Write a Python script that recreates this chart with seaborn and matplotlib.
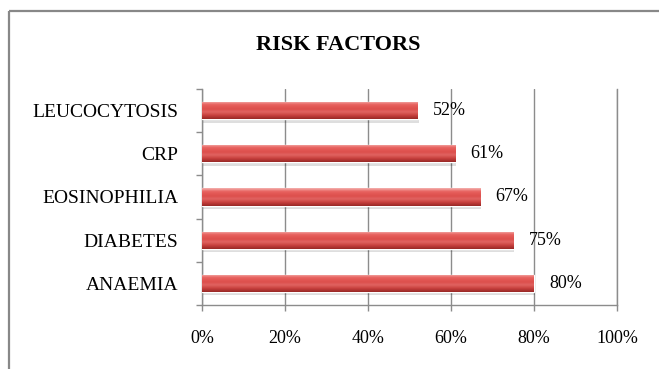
import numpy as np
import pandas as pd
import matplotlib
matplotlib.use("Agg")
import matplotlib.pyplot as plt
from matplotlib.lines import Line2D
from matplotlib.colors import LinearSegmentedColormap
import seaborn as sns

# ---- data ----
categories = ["LEUCOCYTOSIS", "CRP", "EOSINOPHILIA", "DIABETES", "ANAEMIA"]
values = [52, 61, 67, 75, 80]
x_ticks = [0, 20, 40, 60, 80, 100]
x_tick_labels = ["0%", "20%", "40%", "60%", "80%", "100%"]
title = "RISK FACTORS"

df = pd.DataFrame({"factor": categories, "pct": values})

sns.set_theme(style="white")
plt.rcParams["font.family"] = ["Liberation Serif", "DejaVu Serif"]

fig = plt.figure(figsize=(6.59, 3.69), dpi=100)
ax = fig.add_axes([202 / 659, 1 - 305 / 369, 415 / 659, 216 / 369])

sns.barplot(data=df, y="factor", x="pct", order=categories, orient="h",
            color="#D64C49", width=0.4, saturation=1, ax=ax, zorder=3)

# gradient (cylinder) look clipped to each bar
cmap = LinearSegmentedColormap.from_list(
    "cyl", [(0.0, "#F4B4B2"), (0.18, "#E8625F"), (0.45, "#DC4E4B"),
            (0.6, "#E16462"), (0.8, "#C8403D"), (1.0, "#972826")])
grad = np.linspace(0, 1, 64).reshape(-1, 1)
for p in ax.patches:
    x0, y0 = p.get_x(), p.get_y()
    w, h = p.get_width(), p.get_height()
    # subtle shadow
    ax.add_patch(plt.Rectangle((x0 + 0.3, y0 + h * 0.2), w, h, color="#000000",
                               alpha=0.13, zorder=2, lw=0))
    im = ax.imshow(grad, cmap=cmap, aspect="auto", origin="upper",
                   extent=(x0, x0 + w, y0 + h, y0), zorder=4,
                   interpolation="bicubic")
    im.set_clip_path(p)

ax.set_xlim(0, 100)
ax.set_ylim(len(categories) - 0.5, -0.5)

# value labels
for i, v in enumerate(values):
    ax.annotate(f"{v}%", xy=(v, i), xytext=(11, 0), textcoords="offset points",
                ha="left", va="center", fontsize=13, color="#000000", zorder=6)

ax.set_xticks(x_ticks)
ax.set_xticklabels(x_tick_labels, fontsize=13)
ax.set_yticks(range(len(categories)))
ax.set_yticklabels(categories, fontsize=14)
ax.set_yticks(np.arange(-0.5, len(categories), 1), minor=True)
ax.set_xlabel("")
ax.set_ylabel("")

gray = "#8C8C8C"
ax.tick_params(axis="y", which="major", length=0, pad=17, colors="#000000")
ax.tick_params(axis="y", which="minor", length=4, width=1, color=gray, direction="out", left=True)
ax.tick_params(axis="x", which="major", length=4, width=1, color=gray, direction="out",
               bottom=True, pad=14, labelcolor="#000000")

ax.grid(axis="x", color=gray, lw=1, zorder=0)
ax.grid(axis="y", visible=False)
ax.set_axisbelow(True)
ax.spines["top"].set_visible(False)
for s in ["left", "bottom", "right"]:
    ax.spines[s].set_visible(True)
    ax.spines[s].set_color(gray)
    ax.spines[s].set_linewidth(1)

ax.set_title(title, fontsize=16, fontweight="bold", color="#000000", pad=0,
             y=1 + (89 - 45) / 216, va="center")
ax.title.set_x((338 - 202) / 415)

# outer frame (cropped chart box)
fig.add_artist(Line2D([9 / 659, 1.0], [1 - 11 / 369, 1 - 11 / 369],
                      transform=fig.transFigure, color="#888888", lw=1.6,
                      solid_capstyle="butt"))
fig.add_artist(Line2D([9 / 659, 9 / 659], [0.0, 1 - 11 / 369],
                      transform=fig.transFigure, color="#888888", lw=1.6,
                      solid_capstyle="butt"))

fig.savefig("out.png", dpi=100, facecolor="white")
